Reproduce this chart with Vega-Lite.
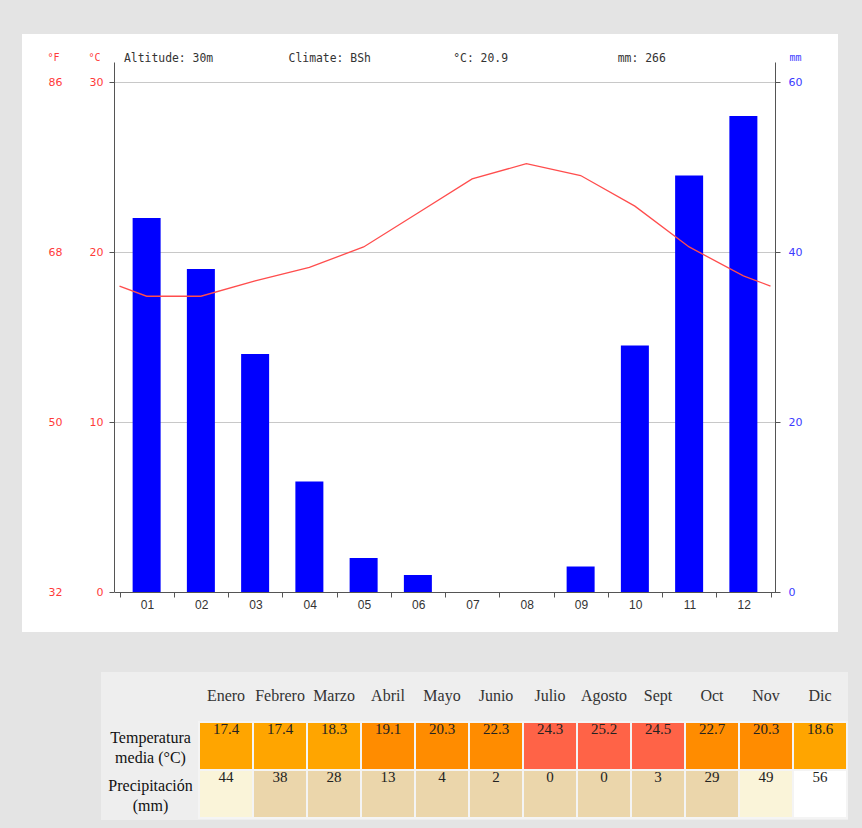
{
  "$schema": "https://vega.github.io/schema/vega-lite/v6.json",
  "background": "#e4e4e4",
  "padding": {"left": 22, "top": 34, "right": 14, "bottom": 8},
  "autosize": {"type": "pad"},
  "config": {"view": {"stroke": null}},
  "datasets": {
    "linea": [
      {"m": 0.5, "t": 18.0}, {"m": 1, "t": 17.4}, {"m": 2, "t": 17.4}, {"m": 3, "t": 18.3},
      {"m": 4, "t": 19.1}, {"m": 5, "t": 20.3}, {"m": 6, "t": 22.3}, {"m": 7, "t": 24.3},
      {"m": 8, "t": 25.2}, {"m": 9, "t": 24.5}, {"m": 10, "t": 22.7}, {"m": 11, "t": 20.3},
      {"m": 12, "t": 18.6}, {"m": 12.5, "t": 18.0}
    ],
    "lluvia": [
      {"m": 1, "p": 44}, {"m": 2, "p": 38}, {"m": 3, "p": 28}, {"m": 4, "p": 13},
      {"m": 5, "p": 4}, {"m": 6, "p": 2}, {"m": 7, "p": 0}, {"m": 8, "p": 0},
      {"m": 9, "p": 3}, {"m": 10, "p": 29}, {"m": 11, "p": 49}, {"m": 12, "p": 56}
    ],
    "tabla": [
      {"mes": "Enero", "fila": "Temperatura media (°C)", "valor": 17.4},
      {"mes": "Febrero", "fila": "Temperatura media (°C)", "valor": 17.4},
      {"mes": "Marzo", "fila": "Temperatura media (°C)", "valor": 18.3},
      {"mes": "Abril", "fila": "Temperatura media (°C)", "valor": 19.1},
      {"mes": "Mayo", "fila": "Temperatura media (°C)", "valor": 20.3},
      {"mes": "Junio", "fila": "Temperatura media (°C)", "valor": 22.3},
      {"mes": "Julio", "fila": "Temperatura media (°C)", "valor": 24.3},
      {"mes": "Agosto", "fila": "Temperatura media (°C)", "valor": 25.2},
      {"mes": "Sept", "fila": "Temperatura media (°C)", "valor": 24.5},
      {"mes": "Oct", "fila": "Temperatura media (°C)", "valor": 22.7},
      {"mes": "Nov", "fila": "Temperatura media (°C)", "valor": 20.3},
      {"mes": "Dic", "fila": "Temperatura media (°C)", "valor": 18.6},
      {"mes": "Enero", "fila": "Precipitación (mm)", "valor": 44},
      {"mes": "Febrero", "fila": "Precipitación (mm)", "valor": 38},
      {"mes": "Marzo", "fila": "Precipitación (mm)", "valor": 28},
      {"mes": "Abril", "fila": "Precipitación (mm)", "valor": 13},
      {"mes": "Mayo", "fila": "Precipitación (mm)", "valor": 4},
      {"mes": "Junio", "fila": "Precipitación (mm)", "valor": 2},
      {"mes": "Julio", "fila": "Precipitación (mm)", "valor": 0},
      {"mes": "Agosto", "fila": "Precipitación (mm)", "valor": 0},
      {"mes": "Sept", "fila": "Precipitación (mm)", "valor": 3},
      {"mes": "Oct", "fila": "Precipitación (mm)", "valor": 29},
      {"mes": "Nov", "fila": "Precipitación (mm)", "valor": 49},
      {"mes": "Dic", "fila": "Precipitación (mm)", "valor": 56}
    ]
  },
  "spacing": 40,
  "bounds": "flush",
  "vconcat": [
    {
      "width": 816,
      "height": 598,
      "view": {"fill": "white", "stroke": null},
      "title": {
        "text": "Altitude: 30m\u00a0\u00a0\u00a0\u00a0\u00a0\u00a0\u00a0\u00a0\u00a0\u00a0\u00a0Climate: BSh\u00a0\u00a0\u00a0\u00a0\u00a0\u00a0\u00a0\u00a0\u00a0\u00a0\u00a0\u00a0°C: 20.9\u00a0\u00a0\u00a0\u00a0\u00a0\u00a0\u00a0\u00a0\u00a0\u00a0\u00a0\u00a0\u00a0\u00a0\u00a0\u00a0mm: 266",
        "anchor": "start",
        "frame": "group",
        "orient": "top",
        "offset": -36,
        "dx": 102,
        "baseline": "middle",
        "font": "DejaVu Sans Mono",
        "fontSize": 11.4,
        "fontWeight": "normal",
        "color": "#333333"
      },
      "encoding": {
        "x": {
          "field": "m",
          "type": "quantitative",
          "scale": {"domain": [0.5, 12.5], "range": [92.5, 753.5], "zero": false, "nice": false},
          "axis": {
            "orient": "bottom",
            "offset": -40,
            "values": [0.5, 1.5, 2.5, 3.5, 4.5, 5.5, 6.5, 7.5, 8.5, 9.5, 10.5, 11.5, 12.5],
            "labelOffset": 27.5,
            "labelExpr": "datum.value > 12 ? '' : format(datum.value + 0.5, '02d')",
            "labelFlush": false,
            "labelOverlap": false,
            "labelBound": false,
            "grid": false,
            "domainColor": "#555555",
            "tickColor": "#555555",
            "tickSize": 5,
            "labelPadding": 2,
            "labelColor": "#333333",
            "labelFont": "Liberation Sans Narrow, Liberation Sans",
            "labelFontSize": 12,
            "title": null
          }
        }
      },
      "layer": [
        {
          "data": {"name": "lluvia"},
          "mark": {"type": "bar", "color": "#0000ff", "size": 28, "orient": "vertical"},
          "encoding": {
            "y": {
              "field": "p",
              "type": "quantitative",
              "scale": {"domain": [0, 62.36], "range": [558, 28], "zero": false, "nice": false},
              "axis": {
                "orient": "right",
                "offset": -63,
                "values": [0, 20, 40, 60],
                "grid": false,
                "domainColor": "#555555",
                "tickColor": "#555555",
                "tickSize": 5,
                "labelPadding": 8,
                "labelColor": "#3a3aff",
                "labelFont": "DejaVu Sans",
                "labelFontSize": 11,
                "title": "mm",
                "titleAngle": 0,
                "titleX": 20,
                "titleY": 23,
                "titleAlign": "center",
                "titleBaseline": "middle",
                "titleColor": "#3a3aff",
                "titleFont": "DejaVu Sans Mono",
                "titleFontSize": 10,
                "titleFontWeight": "normal"
              }
            }
          }
        },
        {
          "data": {"name": "linea"},
          "mark": {"type": "line", "color": "#ff4d4d", "strokeWidth": 1.3, "interpolate": "linear"},
          "encoding": {
            "y": {
              "field": "t",
              "type": "quantitative",
              "scale": {"domain": [0, 31.18], "range": [558, 28], "zero": false, "nice": false},
              "axis": {
                "orient": "left",
                "offset": -92,
                "values": [0, 10, 20, 30],
                "grid": true,
                "gridColor": "#c8c8c8",
                "domainColor": "#555555",
                "tickColor": "#555555",
                "tickSize": 5,
                "labelPadding": 6,
                "labelColor": "#ff3a3a",
                "labelFont": "DejaVu Sans",
                "labelFontSize": 11,
                "title": "°C",
                "titleAngle": 0,
                "titleX": -20,
                "titleY": 23,
                "titleAlign": "center",
                "titleBaseline": "middle",
                "titleColor": "#ff3a3a",
                "titleFont": "DejaVu Sans Mono",
                "titleFontSize": 10,
                "titleFontWeight": "normal"
              }
            }
          }
        },
        {
          "data": {"values": [{"m": 1}]},
          "mark": {"type": "point", "opacity": 0},
          "encoding": {
            "y": {
              "datum": 50,
              "type": "quantitative",
              "scale": {"domain": [32, 88.12], "range": [558, 28], "zero": false, "nice": false},
              "axis": {
                "orient": "left",
                "offset": -40,
                "values": [32, 50, 68, 86],
                "grid": false,
                "domain": false,
                "ticks": false,
                "tickSize": 0,
                "labelPadding": 0,
                "labelColor": "#ff3a3a",
                "labelFont": "DejaVu Sans",
                "labelFontSize": 11,
                "title": "°F",
                "titleAngle": 0,
                "titleX": -9,
                "titleY": 23,
                "titleAlign": "center",
                "titleBaseline": "middle",
                "titleColor": "#ff3a3a",
                "titleFont": "DejaVu Sans Mono",
                "titleFontSize": 10,
                "titleFontWeight": "normal"
              }
            }
          }
        }
      ],
      "resolve": {"scale": {"y": "independent"}, "axis": {"y": "independent"}}
    },
    {
      "spacing": 0,
      "bounds": "flush",
      "hconcat": [
        {
          "width": 79,
          "height": 148,
          "data": {"values": []},
          "mark": {"type": "point", "opacity": 0},
          "encoding": {}
        },
        {
          "width": 747,
          "height": 148,
          "view": {"fill": "#eeeeee", "stroke": null},
          "data": {"name": "tabla"},
          "encoding": {
            "x": {
              "field": "mes",
              "type": "nominal",
              "scale": {
                "type": "band",
                "domain": ["Enero", "Febrero", "Marzo", "Abril", "Mayo", "Junio", "Julio", "Agosto", "Sept", "Oct", "Nov", "Dic"],
                "range": [98, 746],
                "paddingInner": 0,
                "paddingOuter": 0
              },
              "axis": {
                "orient": "top",
                "offset": -50,
                "domain": false,
                "ticks": false,
                "labelPadding": 19,
                "labelAngle": 0,
                "labelFont": "Liberation Serif",
                "labelFontSize": 16,
                "labelColor": "#333333",
                "title": null
              }
            },
            "y": {
              "field": "fila",
              "type": "nominal",
              "scale": {
                "type": "band",
                "domain": ["Temperatura media (°C)", "Precipitación (mm)"],
                "range": [50, 146],
                "paddingInner": 0,
                "paddingOuter": 0
              },
              "axis": {
                "orient": "left",
                "offset": -98,
                "domain": false,
                "ticks": false,
                "labelPadding": 49,
                "labelAlign": "center",
                "labelBaseline": "middle",
                "labelOffset": -8,
                "labelLimit": 0,
                "labelExpr": "datum.label == 'Temperatura media (°C)' ? ['Temperatura', 'media (°C)'] : ['Precipitación', '(mm)']",
                "labelLineHeight": 20,
                "labelFont": "Liberation Serif",
                "labelFontSize": 16,
                "labelColor": "#111111",
                "title": null
              }
            }
          },
          "layer": [
            {
              "transform": [{"filter": "datum.fila == 'Temperatura media (°C)'"}],
              "mark": {"type": "rect", "stroke": "#f4f4f4", "strokeWidth": 2},
              "encoding": {
                "color": {
                  "field": "valor",
                  "type": "quantitative",
                  "scale": {"type": "threshold", "domain": [19, 24], "range": ["#ffa500", "#ff8c00", "#ff6347"]},
                  "legend": null
                }
              }
            },
            {
              "transform": [{"filter": "datum.fila == 'Precipitación (mm)'"}],
              "mark": {"type": "rect", "stroke": "#f4f4f4", "strokeWidth": 2},
              "encoding": {
                "color": {
                  "field": "valor",
                  "type": "quantitative",
                  "scale": {"type": "threshold", "domain": [40, 50], "range": ["#ebd6ab", "#faf4d9", "#ffffff"]},
                  "legend": null
                }
              }
            },
            {
              "mark": {"type": "text", "baseline": "middle", "dy": -17, "font": "Liberation Serif", "fontSize": 15, "color": "#222222"},
              "encoding": {"text": {"field": "valor", "type": "nominal"}}
            }
          ],
          "resolve": {"scale": {"color": "independent"}}
        }
      ]
    }
  ]
}
